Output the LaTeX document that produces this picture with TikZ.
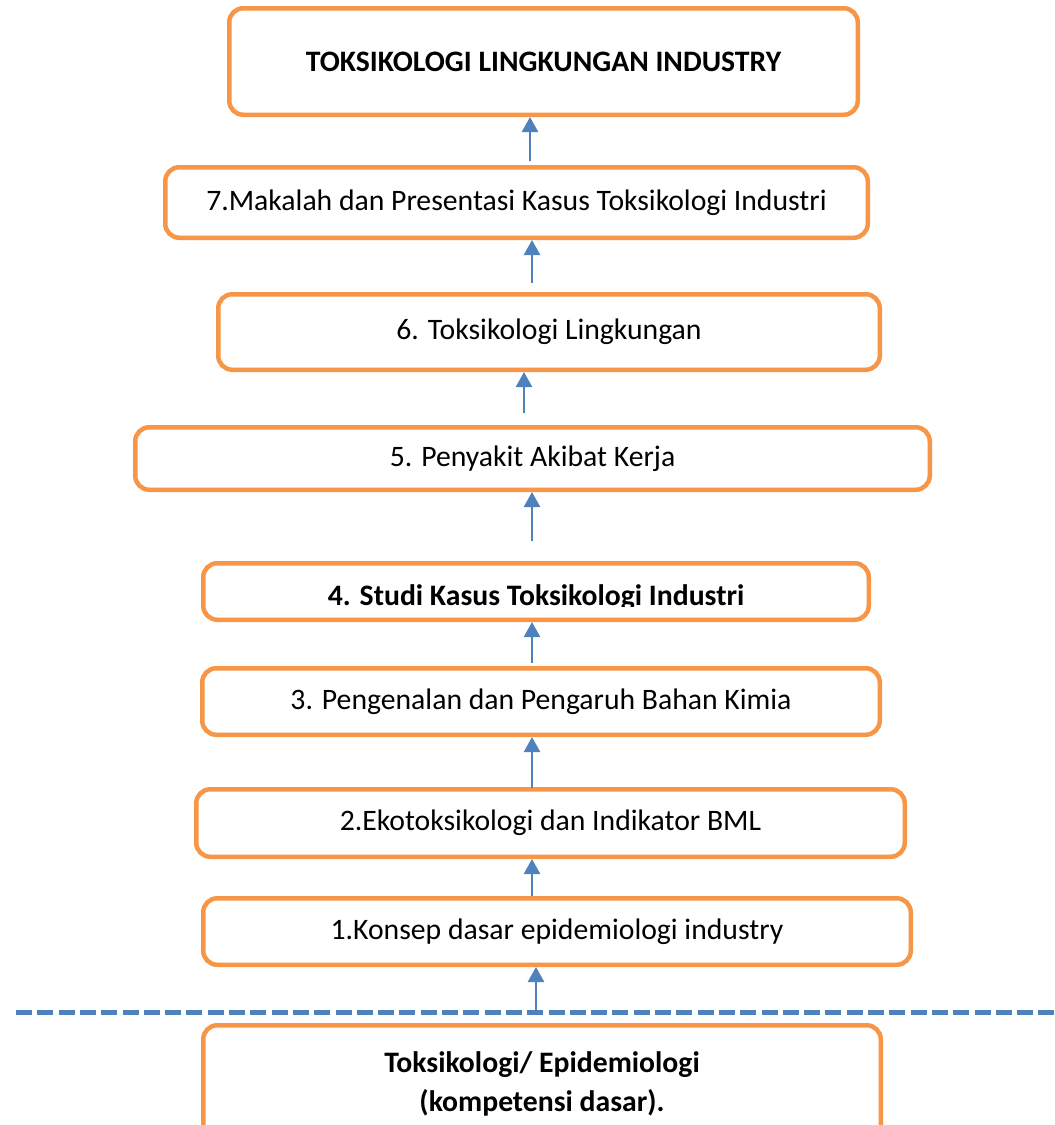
\documentclass[tikz,border=0pt]{standalone}
\usepackage{fontspec}
\setmainfont{Carlito}
\usetikzlibrary{arrows.meta}
\definecolor{boxorange}{HTML}{F79646}
\definecolor{arrowblue}{HTML}{4F81BD}

\begin{document}
\begin{tikzpicture}[x=1pt,y=-1pt,
  box/.style={draw=boxorange,line width=4.5pt,rounded corners=14pt,fill=white,inner sep=0pt,
    font=\fontsize{29.7}{38.5}\selectfont},
  up/.style={draw=arrowblue,line width=2.5pt,-{Triangle[width=16pt,length=15pt]}},
  dashline/.style={draw=arrowblue,line width=5pt,dash pattern=on 16pt off 5.3pt}]
\useasboundingbox (0,0) rectangle (1055,1125);

\node[box,minimum width=628.5pt,minimum height=106.5pt,font=\fontsize{29.7}{38.5}\selectfont\bfseries] (top) at (543.5,61.5) {TOKSIKOLOGI LINGKUNGAN INDUSTRY};
\node[box,minimum width=702.5pt,minimum height=70.5pt] (b7) at (516.5,202.5) {7.Makalah dan Presentasi Kasus Toksikologi Industri};
\node[box,minimum width=661.5pt,minimum height=75.5pt] (b6) at (549,332) {6. Toksikologi Lingkungan};
\node[box,minimum width=794.5pt,minimum height=62.5pt] (b5) at (532.5,458.5) {5. Penyakit Akibat Kerja};
\node[box,minimum width=665.5pt,minimum height=56.5pt] (b4) at (536,591.5) {};
\node[box,minimum width=677.5pt,minimum height=66.5pt] (b3) at (541,701.5) {3. Pengenalan dan Pengaruh Bahan Kimia};
\node[box,minimum width=708.5pt,minimum height=67.5pt] (b2) at (550.5,823) {2.Ekotoksikologi dan Indikator BML};
\node[box,minimum width=707.5pt,minimum height=66.5pt] (b1) at (557,931.5) {1.Konsep dasar epidemiologi industry};

% text of box 4 is cut off at the bottom
\begin{scope}
\clip (b4.north west) rectangle (871,606);
\node[anchor=base,font=\fontsize{29.7}{38.5}\selectfont\bfseries] (t4) at (536,605) {4. Studi Kasus Toksikologi Industri};
\end{scope}

\coordinate (d1) at (16,1012);
\coordinate (d2) at (1055,1012);
\draw[dashline] (d1) -- (d2);

\node[box,minimum width=677.5pt,minimum height=117.5pt,align=center,font=\fontsize{29.7}{38.5}\selectfont\bfseries] (b0) at (542,1084) {Toksikologi/ Epidemiologi\\(kompetensi dasar).};

\coordinate (p1) at (530,161);
\coordinate (p2) at (532,283);
\coordinate (p3) at (524,413);
\coordinate (p4) at (532,541);
\coordinate (p5) at (532,663);
\coordinate (p6) at (532,788);
\coordinate (p7) at (532,896);
\coordinate (p8) at (536,1012);
\draw[up] (p1) -- (p1 |- top.south);
\draw[up] (p2) -- (p2 |- b7.south);
\draw[up] (p3) -- (p3 |- b6.south);
\draw[up] (p4) -- (p4 |- b5.south);
\draw[up] (p5) -- (p5 |- b4.south);
\draw[up] (p6) -- (p6 |- b3.south);
\draw[up] (p7) -- (p7 |- b2.south);
\draw[up] (p8) -- (p8 |- b1.south);
\end{tikzpicture}
\end{document}
